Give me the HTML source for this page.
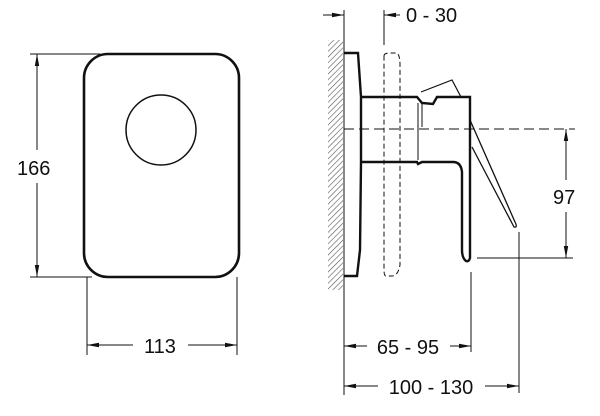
<!DOCTYPE html>
<html><head><style>html,body{margin:0;padding:0;background:#fff}svg{display:block}text{font-family:"Liberation Sans",sans-serif;fill:#111}</style></head><body>
<svg width="600" height="416" viewBox="0 0 600 416">
<defs>
<pattern id="h" width="4" height="4" patternUnits="userSpaceOnUse" patternTransform="rotate(45)"><line x1="0" y1="0" x2="0" y2="4" stroke="#555" stroke-width="1.2"/></pattern>
<marker id="a" markerWidth="12" markerHeight="6" refX="12" refY="3" orient="auto-start-reverse" markerUnits="userSpaceOnUse"><path d="M0,0.8 L12,3 L0,5.2z" fill="#111"/></marker>
</defs>
<g fill="none" stroke="#111">
<rect x="84" y="54" width="155" height="223" rx="24" stroke-width="2.6"/>
<circle cx="161" cy="130" r="35" stroke-width="1.5"/>
<line x1="30" y1="54" x2="100" y2="54" stroke-width="1"/>
<line x1="30" y1="277" x2="92" y2="277" stroke-width="1"/>
<line x1="37" y1="54" x2="37" y2="150" stroke-width="1" marker-start="url(#a)"/>
<line x1="37" y1="183" x2="37" y2="277" stroke-width="1" marker-end="url(#a)"/>
<line x1="87" y1="277" x2="87" y2="355" stroke-width="1"/>
<line x1="237" y1="277" x2="237" y2="355" stroke-width="1"/>
<line x1="87" y1="345" x2="133" y2="345" stroke-width="1" marker-start="url(#a)"/>
<line x1="188" y1="345" x2="237" y2="345" stroke-width="1" marker-end="url(#a)"/>
<rect x="328" y="40" width="15" height="250" fill="url(#h)" stroke="none"/>
<line x1="344" y1="10" x2="344" y2="395" stroke-width="1"/>
<line x1="384" y1="10" x2="384" y2="45" stroke-width="1"/>
<line x1="323" y1="15" x2="344" y2="15" stroke-width="1" marker-end="url(#a)"/>
<line x1="400" y1="15" x2="384" y2="15" stroke-width="1" marker-end="url(#a)"/>
<path d="M384,56 Q384,53 390,53 L397,53 Q400,55 400,65 L400,265 Q398,276 392,276 L386,276 Q384,276 384,270 Z" stroke-width="1" stroke-dasharray="5,3"/>
<path d="M344,53 L358,53 L361,97 L361,162 L360,250 L357,276 L344,276" stroke-width="2.4"/>
<path d="M361,97 L417,97 L422,103 L433,104 L437,97 L470,97 L470,258 Q469,262 466,261 Q462,258 462,250 L462,172 Q461,162 453,162 L422,162 L418,164 L417,162 L361,162" stroke-width="2.4"/>
<line x1="418" y1="103" x2="418" y2="160" stroke-width="1"/>
<path d="M421,92 L452,80 L461,97" stroke-width="1.2"/>
<path d="M422,103 L422,127" stroke-width="1"/>
<path d="M470,120 L515,222 Q518,228 514,227 L472,147" stroke-width="1.3"/>
<line x1="344" y1="129" x2="575" y2="129" stroke-width="1" stroke-dasharray="10,5"/>
<line x1="477" y1="258" x2="573" y2="258" stroke-width="1"/>
<line x1="566" y1="129" x2="566" y2="180" stroke-width="1" marker-start="url(#a)"/>
<line x1="566" y1="212" x2="566" y2="258" stroke-width="1" marker-end="url(#a)"/>
<line x1="471" y1="272" x2="471" y2="352" stroke-width="1"/>
<line x1="519" y1="232" x2="519" y2="393" stroke-width="1"/>
<line x1="344" y1="346" x2="367" y2="346" stroke-width="1" marker-start="url(#a)"/>
<line x1="450" y1="346" x2="471" y2="346" stroke-width="1" marker-end="url(#a)"/>
<line x1="344" y1="386" x2="378" y2="386" stroke-width="1" marker-start="url(#a)"/>
<line x1="485" y1="386" x2="519" y2="386" stroke-width="1" marker-end="url(#a)"/>
</g>
<text x="17" y="175" font-size="20">166</text>
<text x="160" y="353" font-size="20" text-anchor="middle">113</text>
<text x="406" y="22" font-size="20">0 - 30</text>
<text x="553" y="204" font-size="20">97</text>
<text x="408" y="354" font-size="20" text-anchor="middle">65 - 95</text>
<text x="431" y="394" font-size="20" text-anchor="middle">100 - 130</text>
</svg>
</body></html>
